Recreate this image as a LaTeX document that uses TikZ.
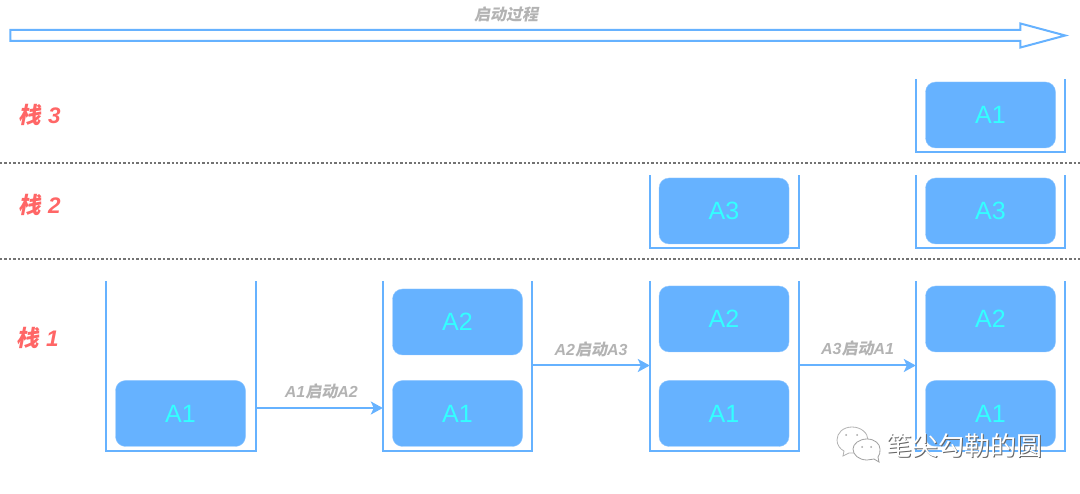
\documentclass[tikz,border=0pt]{standalone}
\usepackage{fontspec}
\usepackage{tikz}
\usetikzlibrary{arrows.meta,shapes.arrows}
\setmainfont{Liberation Sans}
\newfontfamily\cjk[FakeSlant=0.2]{Noto Sans CJK SC}
\newfontfamily\cjkup{Noto Sans CJK SC}
\definecolor{stackblue}{HTML}{66B2FF}
\definecolor{namecyan}{HTML}{33FFFF}
\definecolor{stackred}{HTML}{FF6666}
\definecolor{stepgray}{HTML}{B3B3B3}
\begin{document}
\begin{tikzpicture}[x=1pt,y=-1pt]
\useasboundingbox (0,0) rectangle (1080,494);
\tikzstyle{block}=[fill=stackblue,draw=stackblue!70!white,rounded corners=10pt,minimum width=130pt,minimum height=66pt,inner sep=0pt,text=namecyan,font=\fontsize{25}{25}\selectfont];
\tikzstyle{stacktall}=[minimum width=149pt,minimum height=170pt,inner sep=0pt];
\tikzstyle{stackshort}=[minimum width=149pt,minimum height=73pt,inner sep=0pt];
\tikzstyle{wall}=[stackblue,line width=2.2pt];
\tikzstyle{flow}=[stackblue,line width=2pt,->,>={Stealth[length=12pt,width=13pt,inset=3pt]}];
\tikzstyle{level}=[gray!90!black,line width=1.1pt,dash pattern=on 2.4pt off 2pt];
\tikzstyle{steptext}=[text=stepgray,font=\fontsize{16}{16}\selectfont\bfseries\itshape];
\tikzstyle{stackname}=[text=stackred,font=\fontsize{22.5}{23}\selectfont\bfseries\itshape];
\node[single arrow,draw=stackblue,line width=2pt,inner sep=0pt,text height=9pt,text width=0pt,minimum height=1055pt,minimum width=22pt,single arrow tip angle=30,single arrow head extend=6.5pt] (T)at(527.5,35.5) {};
\node[steptext] (Tl)at(506,14.5) {{\cjk 启动过程}};
\node[stackname] (N3)at(39.5,115) {{\cjk 栈}\,\,3};
\node[stackname] (N2)at(39.5,205) {{\cjk 栈}\,\,2};
\node[stackname] (N1)at(37.5,338) {{\cjk 栈}\,\,1};
\coordinate (L1)at(0,163);
\coordinate (L2)at(0,259);
\coordinate (R1)at(1080,163);
\coordinate (R2)at(1080,259);
\draw[level](L1)--(R1);
\draw[level](L2)--(R2);
\node[stacktall] (S1)at(181,366) {};
\node[stacktall] (S2)at(457.5,366) {};
\node[stacktall] (S3)at(724.5,366) {};
\node[stacktall] (S4)at(990.5,366) {};
\node[stackshort] (S5)at(724.5,211.5) {};
\node[stackshort] (S6)at(990.5,211.5) {};
\node[stackshort] (S7)at(990.5,115.5) {};
\draw[wall](S1.north west)--(S1.south west)--(S1.south east)--(S1.north east);
\draw[wall](S2.north west)--(S2.south west)--(S2.south east)--(S2.north east);
\draw[wall](S3.north west)--(S3.south west)--(S3.south east)--(S3.north east);
\draw[wall](S4.north west)--(S4.south west)--(S4.south east)--(S4.north east);
\draw[wall](S5.north west)--(S5.south west)--(S5.south east)--(S5.north east);
\draw[wall](S6.north west)--(S6.south west)--(S6.south east)--(S6.north east);
\draw[wall](S7.north west)--(S7.south west)--(S7.south east)--(S7.north east);
\node[block] (A)at(180.5,413.5) {A1};
\node[block] (B)at(457.5,413.5) {A1};
\node[block] (C)at(457.5,322) {A2};
\node[block] (D)at(724,413.5) {A1};
\node[block] (E)at(724,319) {A2};
\node[block] (F)at(724,211) {A3};
\node[block] (G)at(990.5,413.5) {A1};
\node[block] (H)at(990.5,319) {A2};
\node[block] (I)at(990.5,211) {A3};
\node[block] (J)at(990.5,115) {A1};
\coordinate (P1)at(0,408);
\coordinate (P2)at(0,365.5);
\draw[flow](P1-|S1.east)--(P1-|S2.west)
	node[midway,above=4.5pt,steptext,xshift=2pt]{A1{\cjk 启动}A2};
\draw[flow](P2-|S2.east)--(P2-|S3.west)
	node[midway,above=4pt,steptext]{A2{\cjk 启动}A3};
\draw[flow](P2-|S3.east)--(P2-|S4.west)
	node[midway,above=5pt,steptext]{A3{\cjk 启动}A1};
\draw[fill=white,draw=gray!60,line width=0.8pt] (852,427) .. controls (843,427) and (837,433) .. (837,440) .. controls (837,445) and (840,449) .. (844,451) -- (843,456) -- (849,453) .. controls (858,454) and (868,448) .. (868,440) .. controls (868,433) and (861,427) .. (852,427) -- cycle;
\draw[fill=white,draw=gray!75,line width=0.8pt] (867,439) .. controls (859,439) and (853,444) .. (853,449) .. controls (853,455) and (859,460) .. (867,460) .. controls (870,460) and (872,459) .. (874,459) -- (879,462) -- (878,457) .. controls (880,455) and (880,452) .. (880,449) .. controls (880,444) and (875,439) .. (867,439) -- cycle;
\fill[gray!70] (846,435) circle (1pt) (857,435) circle (1pt) (862,447) circle (1pt) (871,447) circle (1pt);
\node[text=gray!80!black,font=\cjkup\fontsize{26}{26}\selectfont] (Ws)at(965.5,446.5) {笔尖勾勒的圆};
\node[text=white,font=\cjkup\fontsize{26}{26}\selectfont] (W)at(964.5,445.5) {笔尖勾勒的圆};
\end{tikzpicture}
\end{document}
